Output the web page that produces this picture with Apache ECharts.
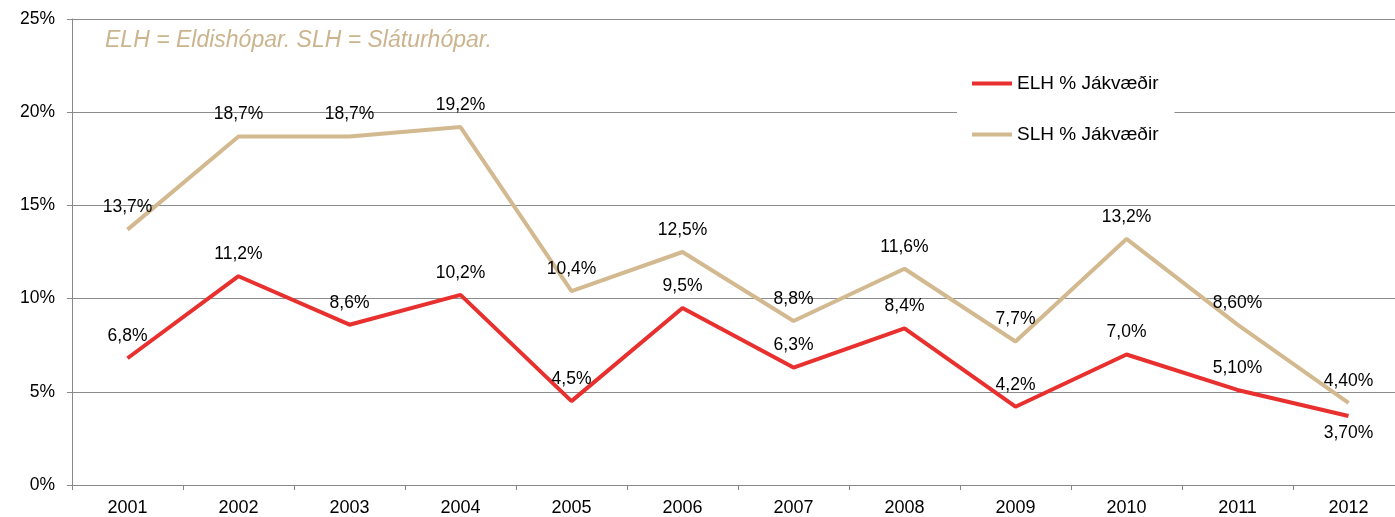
<!DOCTYPE html>
<html>
<head>
<meta charset="utf-8">
<script src="https://cdn.jsdelivr.net/npm/echarts@6/dist/echarts.min.js"></script>
<style>
  html, body { margin: 0; padding: 0; background: #fff; overflow: hidden; }
  /* a bit wider than the window: the plot area runs past the right edge, as in the original */
  #chart { width: 1404px; height: 517px; }
</style>
</head>
<body>
<div id="chart"></div>
<script>
// data
const years = ['2001', '2002', '2003', '2004', '2005', '2006', '2007', '2008', '2009', '2010', '2011', '2012'];
const elhValues = [6.8, 11.2, 8.6, 10.2, 4.5, 9.5, 6.3, 8.4, 4.2, 7.0, 5.1, 3.7];
const elhLabels = ['6,8%', '11,2%', '8,6%', '10,2%', '4,5%', '9,5%', '6,3%', '8,4%', '4,2%', '7,0%', '5,10%', '3,70%'];
const slhValues = [13.7, 18.7, 18.7, 19.2, 10.4, 12.5, 8.8, 11.6, 7.7, 13.2, 8.6, 4.4];
const slhLabels = ['13,7%', '18,7%', '18,7%', '19,2%', '10,4%', '12,5%', '8,8%', '11,6%', '7,7%', '13,2%', '8,60%', '4,40%'];
const seriesNames = ['ELH % Jákvæðir', 'SLH % Jákvæðir'];
const note = 'ELH = Eldishópar. SLH = Sláturhópar.';

const red = '#E8302E';
const tan = '#D3B98F';
const font = '"Liberation Sans", Arial, sans-serif';

const chart = echarts.init(document.getElementById('chart'));

function labelData(values, labels, belowIndex) {
    return values.map((v, i) => {
        const item = { value: v, labelText: labels[i] };
        if (i === belowIndex) {
            item.label = { position: 'bottom', distance: 8 };
        }
        return item;
    });
}

function lineSeries(name, color, data, z) {
    return {
        name: name,
        type: 'line',
        data: data,
        symbol: 'circle',
        symbolSize: 0,
        showSymbol: true,
        lineStyle: { color: color, width: 4 },
        itemStyle: { color: color },
        label: {
            show: true,
            position: 'top',
            distance: 13,
            fontSize: 17.5,
            color: '#000',
            fontFamily: font,
            formatter: p => p.data.labelText
        },
        labelLayout: { hideOverlap: false },
        z: z
    };
}

chart.setOption({
    animation: false,
    textStyle: { fontFamily: font },
    grid: {
        left: 72,
        right: 0,
        top: 19,
        bottom: 31,
        containLabel: false
    },
    graphic: [{
        type: 'text',
        left: 105,
        top: 29,
        z: 10,
        style: {
            text: note,
            fill: '#CBB48E',
            font: 'italic 23px ' + font
        }
    }],
    legend: {
        orient: 'vertical',
        left: 957,
        top: 59,
        padding: [15, 16, 15, 15],
        itemGap: 32,
        itemWidth: 40,
        itemHeight: 4,
        icon: 'rect',
        backgroundColor: '#fff',
        textStyle: { fontSize: 19, color: '#000', fontFamily: font },
        data: seriesNames
    },
    xAxis: {
        type: 'category',
        data: years,
        boundaryGap: true,
        axisLine: { show: true, lineStyle: { color: '#888', width: 1 } },
        axisTick: { show: true, length: 5, lineStyle: { color: '#888' } },
        axisLabel: { color: '#000', fontSize: 18, margin: 14, fontFamily: font },
        splitLine: { show: false }
    },
    yAxis: {
        type: 'value',
        min: 0,
        max: 25,
        interval: 5,
        axisLine: { show: true, lineStyle: { color: '#888', width: 1 } },
        axisTick: { show: true, length: 5, lineStyle: { color: '#888' } },
        axisLabel: { color: '#000', fontSize: 17.5, margin: 17, formatter: '{value}%', fontFamily: font },
        splitLine: { show: true, lineStyle: { color: '#8c8c8c', width: 1 } }
    },
    series: [
        lineSeries(seriesNames[0], red, labelData(elhValues, elhLabels, 11), 3),
        lineSeries(seriesNames[1], tan, labelData(slhValues, slhLabels, -1), 2)
    ]
});
</script>
</body>
</html>
